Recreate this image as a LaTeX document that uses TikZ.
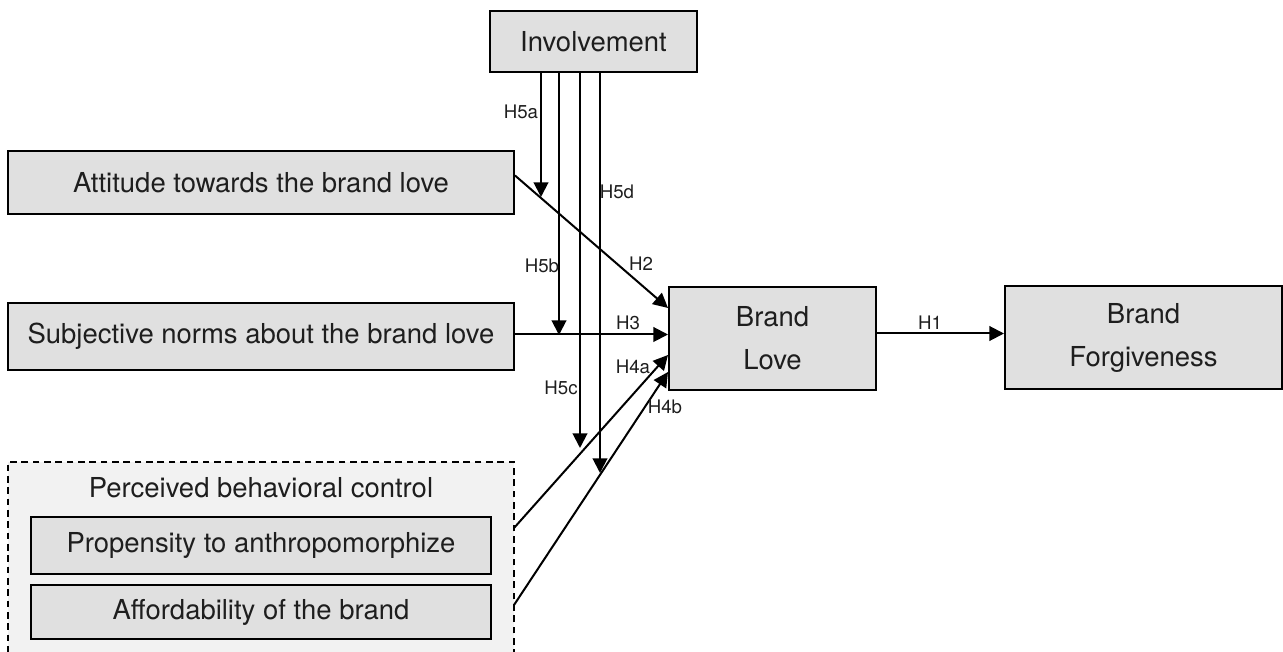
\documentclass[tikz,border=0pt]{standalone}
\usepackage{fontspec}
\setmainfont{TeX Gyre Heros}
\usetikzlibrary{arrows.meta}

\definecolor{boxgray}{RGB}{224,224,224}
\definecolor{panelgray}{RGB}{242,242,242}
\definecolor{inkgray}{RGB}{30,30,30}

\tikzset{every picture/.style={line width=1.5pt}}
\tikzset{
  varbox/.style={draw=black, fill=boxgray, text=inkgray, inner sep=0pt, align=center, font=\fontsize{20.6}{32}\selectfont},
  groupbox/.style={draw=black, fill=panelgray, dash pattern=on 5pt off 3.5pt, line width=1.1pt, inner sep=0pt},
  hyparrow/.style={draw=black, -{Triangle[length=11pt,width=11pt]}},
  hyplabel/.style={inner sep=0.75pt, text=inkgray, font=\fontsize{14}{16}\selectfont},
}

\begin{document}
\begin{tikzpicture}[x=0.75pt,y=0.75pt,yscale=-1,xscale=1]
\clip (0,0) rectangle (1283,652); %set diagram size 1283 x 652

%Shape: Rectangle [id:inv]
\node [varbox, minimum width=155.25pt, minimum height=45.75pt] (inv) at (593.5,41.5) {Involvement};
%Shape: Rectangle [id:att]
\node [varbox, minimum width=379.5pt, minimum height=47.25pt] (att) at (261,182.5) {Attitude towards the brand love};
%Shape: Rectangle [id:subj]
\node [varbox, minimum width=379.5pt, minimum height=50.25pt] (subj) at (261,336.5) {Subjective norms about the brand love};
%Shape: Rectangle [id:love]
\node [varbox, minimum width=155.25pt, minimum height=77.25pt] (love) at (772.5,338.5) {Brand\\Love};
%Shape: Rectangle [id:forg]
\node [varbox, minimum width=207.75pt, minimum height=77.25pt] (forg) at (1143.5,338) {Brand\\Forgiveness};

%Shape: Rectangle [id:pbc]
\node [groupbox, minimum width=379.5pt, minimum height=148.5pt] (pbc) at (261,561) {};
% Text Node
\node [inner sep=0.75pt, text=inkgray, font=\fontsize{20.6}{24}\selectfont] (pbctitle) at (261,488) {Perceived behavioral control};
%Shape: Rectangle [id:prop]
\node [varbox, minimum width=345pt, minimum height=42.75pt] (prop) at (261,545.5) {Propensity to anthropomorphize};
%Shape: Rectangle [id:aff]
\node [varbox, minimum width=345pt, minimum height=40.5pt] (aff) at (261,612) {Affordability of the brand};

%free ends of the moderating arrows and of the H4 arrows
\coordinate (h5aend) at (541,197);
\coordinate (h5bend) at (559,335);
\coordinate (h5cend) at (580,448);
\coordinate (h5dend) at (600,473);
\coordinate (h4astart) at (514,528);
\coordinate (h4bstart) at (514,605);
\coordinate (h4aend) at (668,355);
\coordinate (h4bend) at (668,372);

%Straight Lines [id:h2]
\draw [hyparrow] ([yshift=-5.25pt]att.east) -- ([yshift=-22.9pt]love.west);
%Straight Lines [id:h3]
\draw [hyparrow] ([yshift=-1.5pt]subj.east) -- ([yshift=-1.5pt]subj.east -| love.west);
%Straight Lines [id:h4a]
\draw [hyparrow] (h4astart) -- (h4aend);
%Straight Lines [id:h4b]
\draw [hyparrow] (h4bstart) -- (h4bend);
%Straight Lines [id:h1]
\draw [hyparrow] ([yshift=-3.75pt]love.east) -- ([yshift=-3.75pt]love.east -| forg.west);

%Straight Lines [id:h5a]
\draw [hyparrow] (inv.south -| h5aend) -- (h5aend);
%Straight Lines [id:h5b]
\draw [hyparrow] (inv.south -| h5bend) -- (h5bend);
%Straight Lines [id:h5c]
\draw [hyparrow] (inv.south -| h5cend) -- (h5cend);
%Straight Lines [id:h5d]
\draw [hyparrow] (inv.south -| h5dend) -- (h5dend);

% Text Node
\node [hyplabel] (lh5a) at (521,112) {H5a};
% Text Node
\node [hyplabel] (lh5b) at (542,266) {H5b};
% Text Node
\node [hyplabel] (lh5c) at (561,388) {H5c};
% Text Node
\node [hyplabel] (lh5d) at (617,192) {H5d};
% Text Node
\node [hyplabel] (lh2) at (641,264) {H2};
% Text Node
\node [hyplabel] (lh3) at (628,323) {H3};
% Text Node
\node [hyplabel] (lh4a) at (633,367) {H4a};
% Text Node
\node [hyplabel] (lh4b) at (665,407) {H4b};
% Text Node
\node [hyplabel] (lh1) at (930,323) {H1};

\end{tikzpicture}
\end{document}
